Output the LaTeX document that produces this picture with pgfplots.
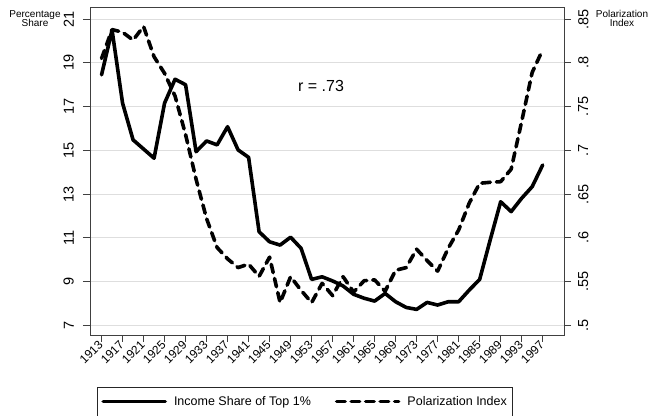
\documentclass[border=0pt]{standalone}
\usepackage{fontspec}
\setmainfont{Liberation Sans}
\usepackage{pgfplots}
\usepackage{pgfplotstable}
\pgfplotsset{compat=1.18}

\pgfplotstableread{
year income
1913 18.45
1915 20.5
1917 17.16
1919 15.48
1921 15.06
1923 14.64
1925 17.16
1927 18.25
1929 18.0
1931 14.94
1933 15.43
1935 15.25
1937 16.08
1939 15.02
1941 14.68
1943 11.28
1945 10.82
1947 10.67
1949 11.03
1951 10.52
1953 9.1
1955 9.22
1957 9.03
1959 8.8
1961 8.42
1963 8.24
1965 8.11
1967 8.46
1969 8.08
1971 7.82
1973 7.73
1975 8.05
1977 7.93
1979 8.08
1981 8.08
1983 8.61
1985 9.1
1987 10.9
1989 12.65
1991 12.2
1993 12.81
1995 13.34
1997 14.33
}\incometable

\pgfplotstableread{
year polar
1913 0.805
1915 0.838
1917 0.835
1919 0.826
1921 0.8415
1923 0.807
1925 0.788
1927 0.762
1929 0.718
1931 0.667
1933 0.622
1935 0.589
1937 0.576
1939 0.566
1941 0.570
1943 0.556
1945 0.578
1947 0.526
1949 0.5556
1951 0.540
1953 0.526
1955 0.548
1957 0.534
1959 0.5556
1961 0.538
1963 0.551
1965 0.552
1967 0.539
1969 0.563
1971 0.566
1973 0.587
1975 0.574
1977 0.562
1979 0.588
1981 0.609
1983 0.6395
1985 0.6624
1987 0.6635
1989 0.6642
1991 0.6785
1993 0.733
1995 0.789
1997 0.815
}\polartable

\tikzset{
  solidline/.style={black, line width=3.6pt, line join=round, line cap=round},
  dashline/.style={black, line width=3.6pt, line join=round, line cap=round, dash pattern=on 8.5pt off 6pt},
}

\begin{document}
\begin{tikzpicture}
\begin{axis}[
  scale only axis, width=474pt, height=327.5pt,
  xmin=1910.8, xmax=2001.06,
  ymin=6.56, ymax=21.53,
  axis line style={draw=black!75, line width=0.9pt},
  tick align=outside, major tick length=7pt,
  tick style={draw=black!75, line width=0.9pt},
  xtick pos=lower, ytick pos=left,
  xtick={1913,1917,...,1997},
  ytick={7,9,...,21},
  /pgf/number format/assume math mode=true,
  /pgf/number format/1000 sep={},
  xticklabel style={rotate=45, anchor=east, inner sep=1pt, font=\fontsize{12}{14}\selectfont},
  yticklabel style={rotate=90, anchor=south, inner sep=2pt, font=\fontsize{14.5}{16}\selectfont},
  yticklabel shift=7pt,
  ymajorgrids, major grid style={draw=black!13, line width=1.1pt},
  clip=false,
]
\coordinate (SW) at (rel axis cs:0,0);
\coordinate (NE) at (rel axis cs:1,1);
\coordinate (NW) at (rel axis cs:0,1);
\addplot[solidline] table[x=year, y=income] {\incometable};
\node[font=\fontsize{16}{18}\selectfont] at (axis cs:1954.8,17.95) {r = .73};
\end{axis}
\begin{axis}[
  scale only axis, width=474pt, height=327.5pt,
  xmin=1910.8, xmax=2001.06,
  ymin=0.489, ymax=0.86325,
  axis x line=none,
  axis y line*=right,
  axis line style={draw=black!75, line width=0.9pt, -},
  tick align=outside, major tick length=7pt,
  tick style={draw=black!75, line width=0.9pt},
  ytick={0.5,0.55,0.6,0.65,0.7,0.75,0.8,0.85},
  yticklabels={.5,.55,.6,.65,.7,.75,.8,.85},
  yticklabel style={rotate=90, anchor=north, inner sep=2pt, font=\fontsize{14.5}{16}\selectfont},
  yticklabel shift=5pt,
  legend columns=2,
  legend image code/.code={\draw[#1] (0pt,0pt) -- (62pt,0pt);},
  legend style={at={(0.0148,0)}, anchor=north west, yshift=-52pt,
    draw=black!85, line width=0.8pt, inner xsep=4pt, inner ysep=7pt,
    font=\fontsize{12.5}{14}\selectfont,
    /tikz/every odd column/.append style={column sep=5pt},
    /tikz/every even column/.append style={column sep=22pt}},
  legend cell align=left,
  clip=false,
]
\addlegendimage{solidline}
\addlegendentry{Income Share of Top 1\%}
\addplot[dashline] table[x=year, y=polar] {\polartable};
\addlegendentry{Polarization Index}
\end{axis}
\node[align=center, font=\fontsize{10}{9.5}\selectfont] at ([xshift=-55pt,yshift=-11pt]NW) {Percentage\\Share};
\node[align=center, font=\fontsize{10}{9.5}\selectfont] at ([xshift=58pt,yshift=-11pt]NE) {Polarization\\Index};
\pgfresetboundingbox
\path ([xshift=-90pt,yshift=-81pt]SW) rectangle ([xshift=85pt,yshift=7.5pt]NE);
\end{tikzpicture}
\end{document}
